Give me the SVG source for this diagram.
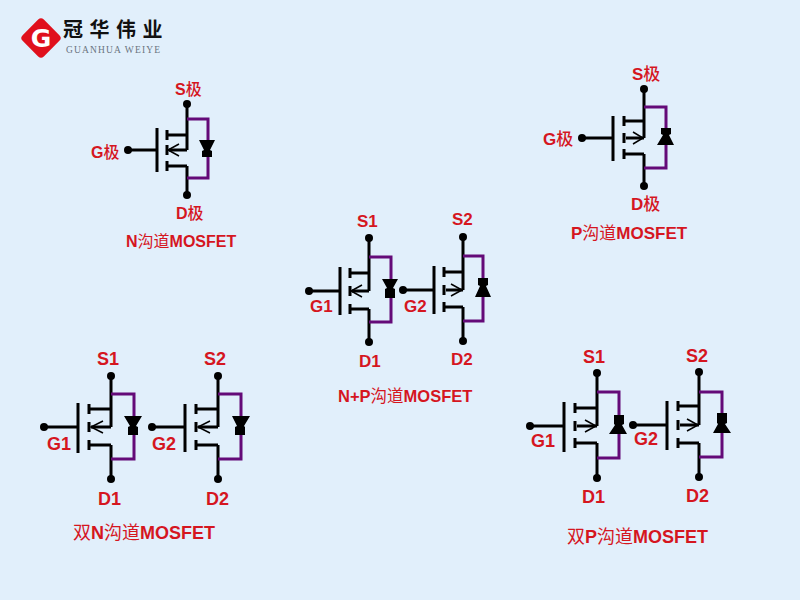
<svg xmlns="http://www.w3.org/2000/svg" width="800" height="600" viewBox="0 0 800 600">
<style>
.k{fill:none;stroke:#000;stroke-width:3}
.c{fill:none;stroke:#000;stroke-width:1.5}
.p{fill:none;stroke:#640a78;stroke-width:3}
.d{fill:#000}
text{font-family:"Liberation Sans","Noto Sans CJK SC",sans-serif;font-weight:bold;fill:#d5161f}
.l{font-size:17px}
.z{font-family:"Noto Sans CJK SC",sans-serif;font-weight:500}
.y{font-family:"Noto Sans CJK SC",sans-serif;font-weight:400}
</style>
<rect width="800" height="600" fill="#e1effb"/>
<g id="logo">
<rect x="26" y="23" width="30" height="30" rx="4" fill="#e0101c" transform="rotate(45 41 38)"/>
<text x="41" y="47" text-anchor="middle" style="font-family:'DejaVu Sans',sans-serif;font-size:25px;fill:#fff">G</text>
<text x="63" y="37" style="font-family:'Noto Sans CJK SC',sans-serif;font-weight:700;font-size:20px;letter-spacing:6.5px;fill:#111">冠华伟业</text>
<text x="66" y="53" textLength="94" style="font-family:'Liberation Serif',serif;font-weight:normal;font-size:9.5px;fill:#6a7480">GUANHUA WEIYE</text>
</g>
<g id="connectors">
<path class="k" d="M128 150H157M187 104V150M187 166H167M187 166V195"/>
<path class="p" d="M187 119H208V178H187"/>
<path class="k" d="M582 138H613M644 89V138M644 154H624M644 154V186"/>
<path class="p" d="M644 107H666V168H644"/>
<path class="k" d="M309 291H340M369 238V291M369 309H350M369 309V342"/>
<path class="p" d="M369 257H391V322H369"/>
<path class="k" d="M403 290H434M463 237V290M463 307H444M463 307V341"/>
<path class="p" d="M463 256H483V321H463"/>
<path class="k" d="M44 427H78M111 376V427M111 445H89M111 445V479"/>
<path class="p" d="M111 394H134V459H111"/>
<path class="k" d="M152 427H185M218 376V427M218 445H196M218 445V479"/>
<path class="p" d="M218 394H241V459H218"/>
<path class="k" d="M530 426H564M597 373V426M597 443H575M597 443V478"/>
<path class="p" d="M597 392H619V458H597"/>
<path class="k" d="M633 425H667M699 372V425M699 443H678M699 443V477"/>
<path class="p" d="M699 392H722V457H699"/>
</g>
<g id="n-mosfet">
<circle class="d" cx="187" cy="104" r="4"/><circle class="d" cx="187" cy="195" r="4"/><circle class="d" cx="128" cy="150" r="4"/>
<path class="k" d="M157 128V172M167 130V140M167 145V155M167 161V171M167 135H187M169 150H187"/>
<path class="c" d="M179 144L168 150L179 156"/>
<path class="d" d="M199 140H215L210 150L212 151V157H202V151L204 150Z"/>
<text x="175" y="95" style="font-size:16px">S<tspan class="z">极</tspan></text>
<text x="91" y="158" style="font-size:16px">G<tspan class="z">极</tspan></text>
<text x="176" y="219" style="font-size:16px">D<tspan class="z">极</tspan></text>
<text x="126" y="247" style="font-size:16px">N<tspan class="y">沟道</tspan>MOSFET</text>
</g>
<g id="p-mosfet">
<circle class="d" cx="644" cy="89" r="4"/><circle class="d" cx="644" cy="186" r="4"/><circle class="d" cx="582" cy="138" r="4"/>
<path class="k" d="M613 116V161M624 116V126M624 133V143M624 149V159M624 121H644M626 138H644"/>
<path class="c" d="M633 132L643 138L633 144"/>
<path class="d" d="M661 128H671V134L669 135L674 145H657L663 135L661 134Z"/>
<text class="l" x="632" y="80">S<tspan class="z">极</tspan></text>
<text class="l" x="543" y="145">G<tspan class="z">极</tspan></text>
<text class="l" x="631" y="210">D<tspan class="z">极</tspan></text>
<text x="571" y="239" style="font-size:17px">P<tspan class="y">沟道</tspan>MOSFET</text>
</g>
<g id="np-q1">
<circle class="d" cx="369" cy="238" r="4"/><circle class="d" cx="369" cy="342" r="4"/><circle class="d" cx="309" cy="291" r="4"/>
<path class="k" d="M340 267V315M350 268V278M350 286V296M350 304V314M350 273H369M352 291H369"/>
<path class="c" d="M362 285L351 291L362 297"/>
<path class="d" d="M382 279H398L393 288L395 289V298H385V289L387 288Z"/>
<text class="l" x="357" y="227">S1</text><text class="l" x="310" y="312">G1</text><text class="l" x="359" y="367">D1</text>
</g>
<g id="np-q2">
<circle class="d" cx="463" cy="237" r="4"/><circle class="d" cx="463" cy="341" r="4"/><circle class="d" cx="403" cy="290" r="4"/>
<path class="k" d="M434 266V314M444 267V277M444 285V295M444 302V312M444 272H463M446 290H463"/>
<path class="c" d="M451 284L462 290L451 296"/>
<path class="d" d="M478 278H488V285L486 286L491 297H475L480 286L478 285Z"/>
<text class="l" x="452" y="225">S2</text><text class="l" x="404" y="312">G2</text><text class="l" x="451" y="365">D2</text>
</g>
<text id="np-caption" x="338" y="402" style="font-size:16.5px">N+P<tspan class="y">沟道</tspan>MOSFET</text>
<g id="dn-q1">
<circle class="d" cx="111" cy="376" r="4"/><circle class="d" cx="111" cy="479" r="4"/><circle class="d" cx="44" cy="427" r="4"/>
<path class="k" d="M78 403V453M89 404V414M89 422V432M89 440V450M89 409H111M91 427H111"/>
<path class="c" d="M103 421L91 427L103 433"/>
<path class="d" d="M124 416H142L136 426L138 427V435H128V427L130 426Z"/>
<text class="l" x="97" y="365" style="font-size:18px">S1</text><text class="l" x="47" y="450" style="font-size:18px">G1</text><text class="l" x="98" y="505" style="font-size:18px">D1</text>
</g>
<g id="dn-q2">
<circle class="d" cx="218" cy="376" r="4"/><circle class="d" cx="218" cy="479" r="4"/><circle class="d" cx="152" cy="427" r="4"/>
<path class="k" d="M185 404V452M196 404V414M196 422V432M196 440V450M196 409H218M198 427H218"/>
<path class="c" d="M210 421L198 427L210 433"/>
<path class="d" d="M232 416H250L244 426L245 427V435H235V427L237 426Z"/>
<text class="l" x="204" y="365" style="font-size:18px">S2</text><text class="l" x="152" y="450" style="font-size:18px">G2</text><text class="l" x="206" y="505" style="font-size:18px">D2</text>
</g>
<text id="dn-caption" x="73" y="539" style="font-size:18px"><tspan class="y">双</tspan>N<tspan class="y">沟道</tspan>MOSFET</text>
<g id="dp-q1">
<circle class="d" cx="597" cy="373" r="4"/><circle class="d" cx="597" cy="478" r="4"/><circle class="d" cx="530" cy="426" r="4"/>
<path class="k" d="M564 402V452M575 403V413M575 421V431M575 438V448M575 408H597M577 426H597"/>
<path class="c" d="M585 420L596 426L585 432"/>
<path class="d" d="M614 415H624V424L622 425L627 434H609L615 425L614 424Z"/>
<text class="l" x="583" y="363" style="font-size:18px">S1</text><text class="l" x="531" y="447" style="font-size:18px">G1</text><text class="l" x="582" y="503" style="font-size:18px">D1</text>
</g>
<g id="dp-q2">
<circle class="d" cx="699" cy="372" r="4"/><circle class="d" cx="699" cy="477" r="4"/><circle class="d" cx="633" cy="425" r="4"/>
<path class="k" d="M667 401V450M678 401V411M678 420V430M678 438V448M678 406H699M680 425H699"/>
<path class="c" d="M687 419L698 425L687 431"/>
<path class="d" d="M717 413H727V423L725 424L731 433H713L718 424L717 423Z"/>
<text class="l" x="686" y="362" style="font-size:18px">S2</text><text class="l" x="634" y="445" style="font-size:18px">G2</text><text class="l" x="686" y="502" style="font-size:18px">D2</text>
</g>
<text id="dp-caption" x="567" y="543" style="font-size:18px"><tspan class="y">双</tspan>P<tspan class="y">沟道</tspan>MOSFET</text>
</svg>
